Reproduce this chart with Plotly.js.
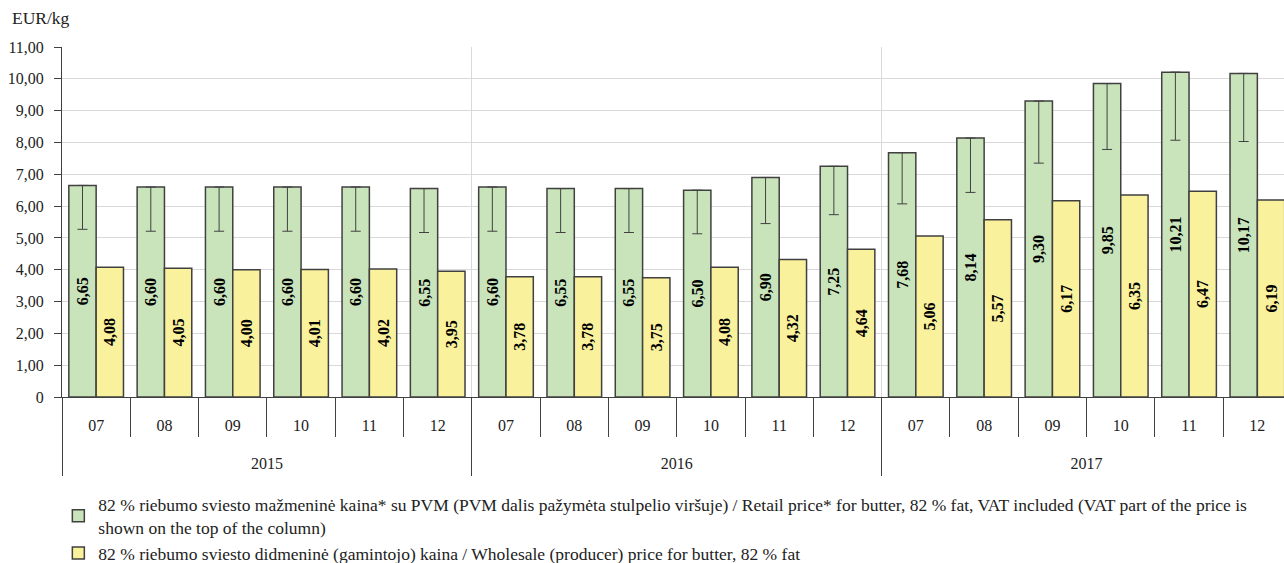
<!DOCTYPE html>
<html>
<head>
<meta charset="utf-8">
<script src="https://cdn.plot.ly/plotly-3.0.1.min.js"></script>
<style>html,body{margin:0;padding:0;background:#fff}#chart{width:1284px;height:563px}</style>
</head>
<body>
<div id="chart"></div>
<script>
// ---- data ----
const years = ['2015', '2016', '2017'];
const months = ['07', '08', '09', '10', '11', '12', '07', '08', '09', '10', '11', '12', '07', '08', '09', '10', '11', '12'];
const retailPrice = [6.65, 6.60, 6.60, 6.60, 6.60, 6.55, 6.60, 6.55, 6.55, 6.50, 6.90, 7.25, 7.68, 8.14, 9.30, 9.85, 10.21, 10.17];
const vatPart = [1.38, 1.39, 1.39, 1.39, 1.39, 1.38, 1.39, 1.38, 1.38, 1.37, 1.45, 1.52, 1.61, 1.71, 1.95, 2.07, 2.14, 2.14];
const wholesalePrice = [4.08, 4.05, 4.00, 4.01, 4.02, 3.95, 3.78, 3.78, 3.75, 4.08, 4.32, 4.64, 5.06, 5.57, 6.17, 6.35, 6.47, 6.19];
const yTickVals = [0, 1, 2, 3, 4, 5, 6, 7, 8, 9, 10, 11];
const yTickText = ['0', '1,00', '2,00', '3,00', '4,00', '5,00', '6,00', '7,00', '8,00', '9,00', '10,00', '11,00'];
const retailName = '82 % riebumo sviesto mažmeninė kaina* su PVM (PVM dalis pažymėta stulpelio viršuje) / Retail price* for butter, 82 % fat, VAT included (VAT part of the price is<br>shown on the top of the column)';
const wholesaleName = '82 % riebumo sviesto didmeninė (gamintojo) kaina / Wholesale (producer) price for butter, 82 % fat';

// ---- derived ----
const idx = months.map((m, i) => i);
const perYear = months.length / years.length;
const yearCenters = years.map((y, i) => i * perYear + (perYear - 1) / 2);
const yearBounds = years.map((y, i) => i * perYear - 0.5).concat([months.length - 0.5]);
const monthBounds = months.map((m, i) => i - 0.5).concat([months.length - 0.5]);
const fmt = v => v.toFixed(2).replace('.', ',');

const FONT = '"Liberation Serif", "Times New Roman", Times, serif';
const DARK = '#404040';
const GRID = '#D9D9D9';
const xRange = [-0.5, 17.39];

const labelFont = {family: FONT, size: 16, color: '#000', weight: 'bold'};

const traces = [
  {
    type: 'bar', name: retailName, x: idx, y: retailPrice,
    text: retailPrice.map(fmt), textposition: 'inside', insidetextanchor: 'middle',
    textangle: -90, textfont: labelFont, constraintext: 'none',
    marker: {color: '#C9E4BA', line: {color: DARK, width: 1.5}},
    error_y: {type: 'data', symmetric: false, array: retailPrice.map(() => 0), arrayminus: vatPart,
              color: DARK, thickness: 1, width: 5},
    hoverinfo: 'skip'
  },
  {
    type: 'bar', name: wholesaleName, x: idx, y: wholesalePrice,
    text: wholesalePrice.map(fmt), textposition: 'inside', insidetextanchor: 'middle',
    textangle: -90, textfont: labelFont, constraintext: 'none',
    marker: {color: '#FAF19C', line: {color: DARK, width: 1.5}},
    hoverinfo: 'skip'
  },
  // empty helper traces so the overlay axes (separators, year labels) are drawn
  {type: 'scatter', x: [], y: [], xaxis: 'x2', yaxis: 'y', showlegend: false, hoverinfo: 'skip'},
  {type: 'scatter', x: [], y: [], xaxis: 'x3', yaxis: 'y', showlegend: false, hoverinfo: 'skip'},
  {type: 'scatter', x: [], y: [], xaxis: 'x4', yaxis: 'y', showlegend: false, hoverinfo: 'skip'}
];

const tickFont = {family: FONT, size: 16, color: '#222'};

const layout = {
  width: 1284, height: 563,
  margin: {l: 62, r: 0, t: 46.5, b: 166, autoexpand: false},
  paper_bgcolor: '#fff', plot_bgcolor: '#fff',
  barmode: 'group', bargap: 0.2, bargroupgap: 0,
  font: {family: FONT, size: 16, color: '#222'},
  title: {text: 'EUR/kg', x: 0.0093, xanchor: 'left', y: 0.968, yanchor: 'middle',
          font: {family: FONT, size: 17.5, color: '#222'}},
  showlegend: true,
  legend: {orientation: 'v', x: -0.003, xanchor: 'left', y: -0.256, yanchor: 'top',
           font: {family: FONT, size: 17.5, color: '#222'}, traceorder: 'normal',
           bgcolor: 'rgba(0,0,0,0)', tracegroupgap: 0},
  xaxis: {
    type: 'linear', range: xRange, tickmode: 'array', tickvals: idx, ticktext: months,
    ticks: '', showgrid: false, zeroline: false, showline: true, linecolor: DARK, linewidth: 1,
    tickfont: tickFont, ticklabelstandoff: 14, fixedrange: true
  },
  xaxis2: {
    overlaying: 'x', anchor: 'y', side: 'bottom', type: 'linear', range: xRange,
    tickmode: 'array', tickvals: monthBounds, ticks: 'outside', ticklen: 39, tickcolor: DARK, tickwidth: 1,
    showticklabels: false, showgrid: false, zeroline: false, showline: false
  },
  xaxis3: {
    overlaying: 'x', anchor: 'y', side: 'bottom', type: 'linear', range: xRange,
    tickmode: 'array', tickvals: yearBounds, ticks: 'outside', ticklen: 78, tickcolor: DARK, tickwidth: 1,
    showticklabels: false, showgrid: true, gridcolor: GRID, gridwidth: 1, zeroline: false, showline: false
  },
  xaxis4: {
    overlaying: 'x', anchor: 'y', side: 'bottom', type: 'linear', range: xRange,
    tickmode: 'array', tickvals: yearCenters, ticktext: years, ticks: '',
    showticklabels: true, tickfont: tickFont, ticklabelstandoff: 55,
    showgrid: false, zeroline: false, showline: false
  },
  yaxis: {
    range: [0, 11], tickmode: 'array', tickvals: yTickVals, ticktext: yTickText,
    ticks: 'outside', ticklen: 7, tickcolor: DARK, tickwidth: 1,
    showline: true, linecolor: DARK, linewidth: 1,
    showgrid: true, gridcolor: GRID, gridwidth: 1, zeroline: false,
    tickfont: tickFont, ticklabelstandoff: 7, fixedrange: true
  }
};

Plotly.newPlot('chart', traces, layout, {staticPlot: true, displayModeBar: false});
</script>
</body>
</html>
